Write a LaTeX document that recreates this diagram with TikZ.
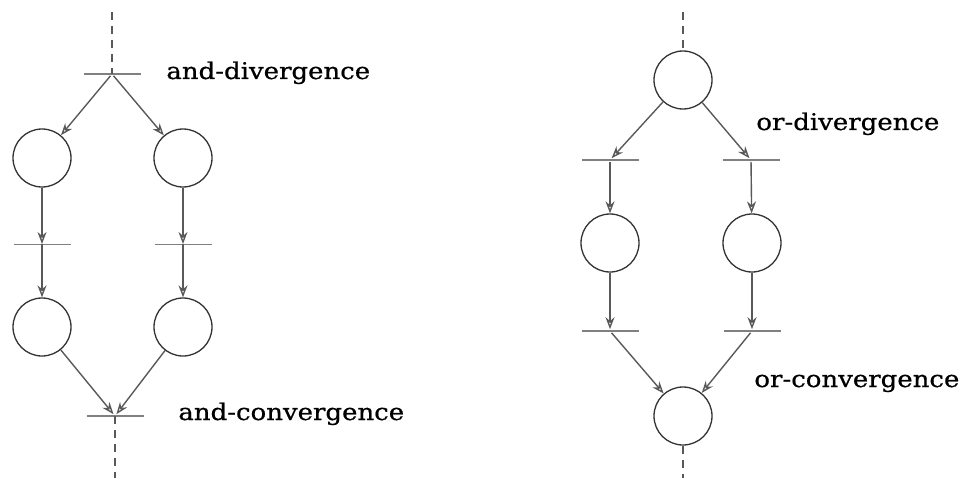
\documentclass[tikz,border=0pt]{standalone}
\usepackage{fontspec}
\setmainfont[FakeStretch=1.13,FakeBold=0.6]{DejaVu Serif}
\usetikzlibrary{arrows.meta}
\begin{document}
\begin{tikzpicture}[x=0.5pt,y=-0.5pt,
  place/.style={circle,draw=black!80,line width=0.65pt,minimum size=29pt,inner sep=0pt},
  trans/.style={rectangle,fill=black!50,draw=none,inner sep=0pt,minimum height=1.4pt,minimum width=28.5pt},
  thintrans/.style={trans,minimum height=0.5pt},
  arc/.style={draw=black!65,line width=0.7pt,-{Stealth[open,length=6pt,width=4.5pt]}},
  flow/.style={draw=black!65,line width=0.6pt,dash pattern=on 4pt off 3pt},
  lab/.style={font=\fontsize{11.5}{14}\selectfont,anchor=base west,inner sep=0pt,text=black}
]
\useasboundingbox (0,0) rectangle (969,481);
% left: and
\coordinate (a00) at (112,12);
\node[trans] (a0) at (112,74) {};
\node[place] (a1) at (42,158) {};
\node[place] (a2) at (183,158) {};
\node[thintrans] (a3) at (42,244) {};
\node[thintrans] (a4) at (183,244) {};
\node[place] (a5) at (42,327) {};
\node[place] (a6) at (183,327) {};
\node[trans] (a7) at (115,416) {};
\coordinate (a8) at (115,478);
\draw[flow] (a00) -- (a0.center);
\draw[flow] (a7.center) -- (a8);
\draw[arc] (a0) -- (a1);
\draw[arc] (a0) -- (a2);
\draw[arc] (a1) -- (a3.center);
\draw[arc] (a2) -- (a4.center);
\draw[arc] (a3.center) -- (a5);
\draw[arc] (a4.center) -- (a6);
\draw[arc] (a5) -- (a7);
\draw[arc] (a6) -- (a7);
\node[lab] (l1) at (166,79) {and-divergence};
\node[lab] (l2) at (178,420) {and-convergence};
% right: or
\coordinate (b00) at (683,12);
\node[place] (b0) at (683,80) {};
\node[trans] (b1) at (610,160) {};
\node[trans] (b2) at (751,160) {};
\node[place] (b3) at (610,243) {};
\node[place] (b4) at (752,243) {};
\node[trans] (b5) at (610,331) {};
\node[trans] (b6) at (752,331) {};
\node[place] (b7) at (683,416) {};
\coordinate (b8) at (683,478);
\draw[flow] (b00) -- (b0);
\draw[flow] (b7) -- (b8);
\draw[arc] (b0) -- (b1);
\draw[arc] (b0) -- (b2);
\draw[arc] (b1) -- (b3);
\draw[arc] (b2) -- (b4);
\draw[arc] (b3) -- (b5);
\draw[arc] (b4) -- (b6);
\draw[arc] (b5) -- (b7);
\draw[arc] (b6) -- (b7);
\node[lab] (l3) at (756,130) {or-divergence};
\node[lab] (l4) at (754,387) {or-convergence};
\end{tikzpicture}
\end{document}
